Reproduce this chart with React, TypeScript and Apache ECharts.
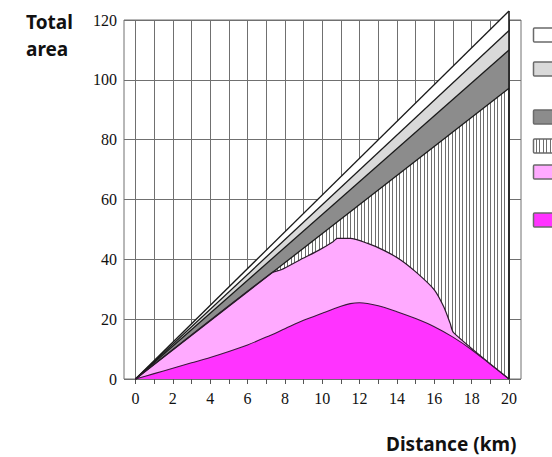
import React, { useEffect, useRef } from "react";
import * as echarts from "echarts";

// Distance along the route (km) and the boundaries of each layer (total area)
const xTicks = [0, 2, 4, 6, 8, 10, 12, 14, 16, 18, 20];
const yTicks = [0, 20, 40, 60, 80, 100, 120];

// Straight wedge layers: boundary at 0 km and at 20 km
const wedgeX = [0, 20];
const outerTop = [0, 123];
const secondTop = [0, 116.5];
const thirdTop = [0, 110];
const hatchedTop = [0, 97.2];

// Light pink layer boundary
const pinkX = [0, 7.3, 7.8, 8.8, 9.8, 10.6, 10.8, 11.5, 12.4, 13.3, 14.2, 15.1, 16.0, 16.5, 16.85, 17.03, 20];
const pinkY = [0, 35.5, 36.5, 39.8, 43, 46, 47, 47, 45.4, 43, 39.8, 35.3, 29.8, 24.2, 18.6, 15.5, 0];

// Magenta layer boundary
const magX = [0, 1, 2, 3, 4, 5, 6, 7, 8, 9, 10, 11, 11.5, 12, 13, 14, 15, 16, 17, 18, 19, 20];
const magY = [0, 1.8, 3.6, 5.4, 7.2, 9.2, 11.4, 14, 16.8, 19.6, 22, 24.3, 25.2, 25.5, 24.5, 22.5, 20.2, 17.5, 14, 9.8, 4.9, 0];

const layerColors = ["#ffffff", "#d9d9d9", "#8c8c8c", "hatch", "#ffaaff", "#ff33ff"];
const legendCenters = [35, 69, 117, 146, 172, 220];

const pairs = (xs: number[], ys: number[]) => xs.map((x, i) => [x, ys[i]]);

function makeHatch() {
  const c = document.createElement("canvas");
  c.width = 7;
  c.height = 4;
  const ctx = c.getContext("2d")!;
  ctx.fillStyle = "#ffffff";
  ctx.fillRect(0, 0, 7, 4);
  ctx.fillStyle = "#6e6e6e";
  ctx.fillRect(0, 0, 1, 4);
  ctx.fillRect(4, 0, 1, 4);
  return { image: c, repeat: "repeat", imageWidth: 7, imageHeight: 4 } as any;
}

export default function App() {
  const ref = useRef<HTMLDivElement>(null);

  useEffect(() => {
    if (!ref.current) return;
    const chart = echarts.init(ref.current, null, { renderer: "svg" });
    const hatch = makeHatch();
    const fillOf = (c: string) => (c === "hatch" ? hatch : c);
    const edge = "#1a1a1a";
    const gridColor = "#707070";
    const serif = "'Liberation Serif', 'DejaVu Serif', serif";

    const layer = (name: string, data: number[][], fill: any, lineColor: string, width = 1.3) => ({
      name,
      type: "line",
      xAxisIndex: 1,
      yAxisIndex: 1,
      data,
      symbol: "none",
      clip: false,
      lineStyle: { color: lineColor, width },
      areaStyle: { color: fill, opacity: 1, origin: "start" },
    });

    chart.setOption({
      animation: false,
      title: [
        {
          text: "Total\narea",
          left: 21,
          top: 3,
          textStyle: {
            fontFamily: "'Noto Sans', sans-serif",
            fontWeight: "bold",
            fontSize: 19,
            lineHeight: 27,
            color: "#111",
          },
        },
        {
          text: "Distance (km)",
          left: 381,
          top: 429,
          textStyle: {
            fontFamily: "'Noto Sans', sans-serif",
            fontWeight: "bold",
            fontSize: 19,
            color: "#111",
          },
        },
      ],
      grid: [
        { left: 124, right: 31, top: 20, bottom: 78, show: true, borderColor: gridColor, borderWidth: 1 },
        { left: 135.5, right: 43, top: 20, bottom: 78 },
      ],
      xAxis: [
        { gridIndex: 0, type: "value", min: 0, max: 1, show: false },
        {
          gridIndex: 1,
          type: "value",
          min: 0,
          max: 20,
          interval: 1,
          axisLine: { show: false },
          axisTick: { show: true, length: 5, lineStyle: { color: "#555" } },
          axisLabel: {
            formatter: (v: number) => (xTicks.includes(v) ? String(v) : ""),
            fontFamily: serif,
            fontSize: 16,
            color: "#111",
            margin: 11,
          },
          splitLine: { show: true, lineStyle: { color: gridColor, width: 1 } },
        },
      ],
      yAxis: [
        {
          gridIndex: 0,
          type: "value",
          min: yTicks[0],
          max: yTicks[yTicks.length - 1],
          interval: 20,
          axisLine: { show: false },
          axisTick: { show: false },
          axisLabel: { fontFamily: serif, fontSize: 16, color: "#111", margin: 7 },
          splitLine: { show: true, lineStyle: { color: gridColor, width: 1 } },
        },
        { gridIndex: 1, type: "value", min: 0, max: 120, show: false },
      ],
      series: [
        layer("outer", pairs(wedgeX, outerTop), fillOf(layerColors[0]), edge),
        layer("second", pairs(wedgeX, secondTop), fillOf(layerColors[1]), edge),
        layer("third", pairs(wedgeX, thirdTop), fillOf(layerColors[2]), edge),
        layer("hatched", pairs(wedgeX, hatchedTop), fillOf(layerColors[3]), edge),
        { ...layer("pink", pairs(pinkX, pinkY), fillOf(layerColors[4]), "#2a1a2a", 1.2), smooth: 0.25 },
        { ...layer("magenta", pairs(magX, magY), fillOf(layerColors[5]), "#3a1a3a", 1.1), smooth: 0.3 },
        {
          name: "edge",
          type: "line",
          xAxisIndex: 1,
          yAxisIndex: 1,
          data: [
            [wedgeX[1], 0],
            [wedgeX[1], outerTop[1]],
          ],
          symbol: "none",
          clip: false,
          lineStyle: { color: edge, width: 1.6 },
        },
      ],
      graphic: legendCenters.map((cy, i) => ({
        type: "rect",
        shape: { x: 533.5, y: cy - 7, width: 30, height: 14, r: 1 },
        style: { fill: fillOf(layerColors[i]), stroke: "#6a6a6a", lineWidth: 1.5 },
      })),
    });

    return () => chart.dispose();
  }, []);

  return (
    <div
      ref={ref}
      style={{ position: "fixed", left: 0, top: 0, width: 552, height: 457, background: "#fff" }}
    />
  );
}
